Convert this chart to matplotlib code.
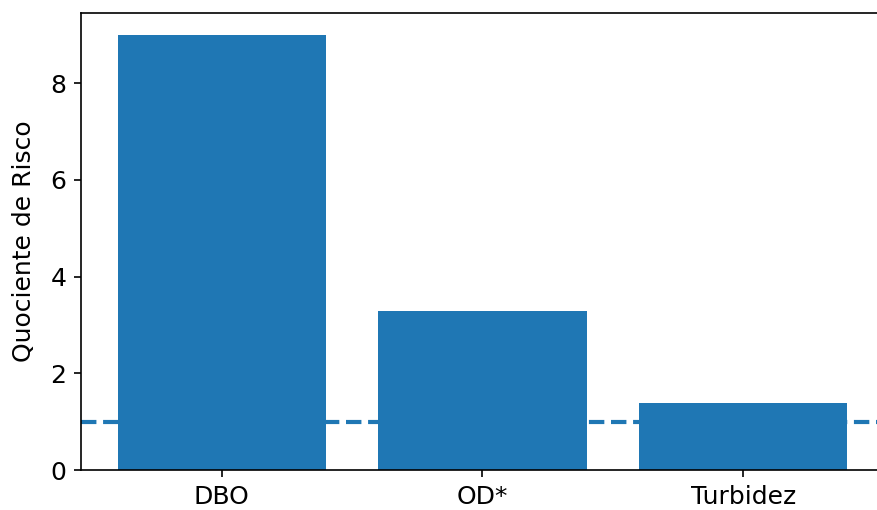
import matplotlib
matplotlib.use('Agg')
import matplotlib.pyplot as plt

parametros = ['DBO', 'OD*', 'Turbidez']
quociente = [9.0, 3.29, 1.38]
limite = 1.0

plt.rcParams['font.size'] = 12

W, H, DPI = 877, 510, 150
fig = plt.figure(figsize=(W / DPI, H / DPI), dpi=DPI)
# eixo um pouco além da borda direita (corte como no original)
ax = fig.add_axes([81 / W, 40 / H, (884 - 81) / W, (470.5 - 13.5) / H])

ax.axhline(limite, color='C0', linestyle='--', linewidth=2, zorder=1)
ax.bar(parametros, quociente, color='C0', zorder=2)
ax.set_ylabel('Quociente de Risco', labelpad=7)

fig.savefig('out.png', dpi=DPI)
